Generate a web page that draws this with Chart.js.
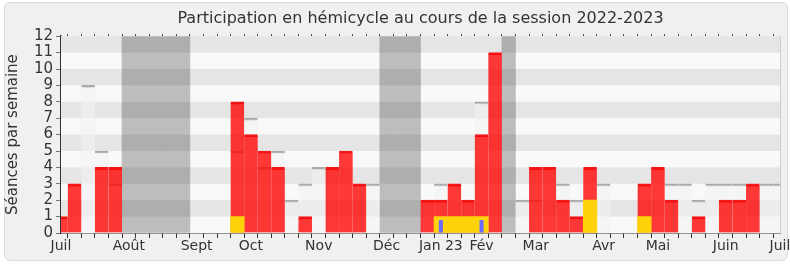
<!DOCTYPE html>
<html>
<head>
<meta charset="utf-8">
<script src="https://cdn.jsdelivr.net/npm/chart.js@4"></script>
<style>
  body { margin: 0; background: #fff; }
  #frame { position: absolute; left: 4px; top: 2px; width: 782px; height: 257px;
           border: 1px solid #dcdcdc; border-radius: 6px; background: #f0f0f0; }
  #wrap { position: absolute; left: 0; top: 0; width: 790px; height: 267px; }
</style>
</head>
<body>
<div id="frame"></div>
<div id="wrap"><canvas id="chart" width="790" height="267"></canvas></div>
<script>
// one slot per week, week 0 = first week of July 2022
const weeks = Array.from({ length: 54 }, (_, i) => i);

// total sessions in the week (grey line)
const total = [
  null, null, 9, 5, 3, null, null, null, null, null,
  null, null, null, 5, 7, 4, 5, 2, 3, 4,
  null, null, null, 3, null, null, null, null, 3, null,
  null, 8, null, null, 2, 2, null, 3, 2, null,
  3, null, null, null, null, 3, 3, 2, 3, 3,
  3, null, 3, 3
];
// sessions attended (red)
const present = [
  1, 3, null, 4, 4, null, null, null, null, null,
  null, null, null, 8, 6, 5, 4, null, 1, null,
  4, 5, 3, null, null, null, null, 2, 2, 3,
  2, 6, 11, null, null, 4, 4, 2, 1, 4,
  null, null, null, 3, 4, 2, null, 1, null, 2,
  2, 3, null, null
];
// yellow part
const yellow = [
  null, null, null, null, null, null, null, null, null, null,
  null, null, null, 1, null, null, null, null, null, null,
  null, null, null, null, null, null, null, null, 1, 1,
  1, 1, null, null, null, null, null, null, null, 2,
  null, null, null, 1, null, null, null, null, null, null,
  null, null, null, null
];
// thin blue marks
const blue = [];
blue[28] = 0.8;
blue[31] = 0.8;
// parliamentary breaks
const breakWeeks = [5, 6, 7, 8, 9, 24, 25, 26, 33];

const monthWeeks = [0, 5, 10, 14, 19, 24, 28, 31, 35, 40, 44, 49, 53];
const monthNames = ['Juil', 'Août', 'Sept', 'Oct', 'Nov', 'Déc', 'Jan 23', 'Fév', 'Mar', 'Avr', 'Mai', 'Juin', 'Juil'];

const pts = arr => weeks.map(w => ({ x: w, y: arr[w] == null ? null : arr[w] }));
const breakData = weeks.map(w => ({ x: w, y: breakWeeks.includes(w) ? 12 : null }));

const bgPlugin = {
  id: 'bg',
  beforeDatasetsDraw(chart) {
    const { ctx, chartArea: a } = chart;
    ctx.save();
    ctx.fillStyle = '#f9f9f9';
    ctx.fillRect(a.left, a.top, a.right - a.left, a.bottom - a.top);
    ctx.restore();
  },
  afterDatasetDraw(chart, args) {
    if (args.index !== 0) return;
    const { ctx, chartArea: a, scales } = chart;
    ctx.save();
    ctx.fillStyle = 'rgba(0,0,0,0.08)';
    for (let v = 1; v < 12; v += 2) {
      const y1 = scales.y.getPixelForValue(v + 1);
      const y2 = scales.y.getPixelForValue(v);
      ctx.fillRect(a.left, y1, a.right - a.left, y2 - y1);
    }
    ctx.restore();
  },
  afterDatasetsDraw(chart) {
    const { ctx, chartArea: a } = chart;
    ctx.save();
    ctx.strokeStyle = '#cccccc';
    ctx.lineWidth = 1;
    ctx.beginPath();
    ctx.moveTo(a.right + 0.5, a.top);
    ctx.lineTo(a.right + 0.5, a.bottom);
    ctx.stroke();
    ctx.restore();
  }
};

const weekTicks = scale => { scale.ticks = weeks.map(w => ({ value: w })); };

new Chart(document.getElementById('chart'), {
  type: 'bar',
  data: {
    datasets: [
      { data: breakData, backgroundColor: '#bdbdbd', order: 5 },
      { data: pts(total), backgroundColor: 'rgba(242,242,242,0.6)',
        borderColor: '#aaaaaa', borderWidth: { top: 2, left: 0, right: 0, bottom: 0 }, borderSkipped: false, order: 4 },
      { data: pts(present), backgroundColor: 'rgba(255,0,0,0.78)',
        borderColor: 'rgba(240,0,0,0.9)', borderWidth: { top: 2, left: 0, right: 0, bottom: 0 }, borderSkipped: false, order: 3 },
      { data: pts(yellow), backgroundColor: '#ffd20a', order: 2 },
      { data: pts(blue), backgroundColor: '#6b6bff', barPercentage: 0.3, order: 1 }
    ]
  },
  options: {
    responsive: false,
    animation: false,
    devicePixelRatio: 1,
    layout: { padding: { left: 4, right: 10, top: 0, bottom: 0 } },
    datasets: { bar: { grouped: false, barPercentage: 1, categoryPercentage: 1 } },
    plugins: {
      legend: { display: false },
      tooltip: { enabled: false },
      title: {
        display: true,
        fullSize: false,
        text: 'Participation en hémicycle au cours de la session 2022-2023',
        color: '#333',
        font: { family: 'DejaVu Sans', size: 16, weight: 'normal' },
        padding: { top: 9, bottom: 8 }
      }
    },
    scales: {
      x: {
        type: 'linear', min: 0, max: 53, offset: false,
        afterBuildTicks: weekTicks,
        afterFit(s) { s.height = 34; s.paddingLeft = 0; s.paddingRight = 0; },
        ticks: {
          autoSkip: false, maxRotation: 0, padding: 0, color: '#333',
          font: { family: 'DejaVu Sans', size: 14 },
          callback: v => { const i = monthWeeks.indexOf(v); return i < 0 ? '' : monthNames[i]; }
        },
        grid: { drawOnChartArea: false, tickLength: 5, color: '#333' },
        border: { color: '#333', width: 1.5 }
      },
      x2: {
        type: 'linear', position: 'top', min: 0, max: 53, offset: false,
        afterBuildTicks: weekTicks,
        afterFit(s) { s.height = 0; s.paddingLeft = 0; s.paddingRight = 0; },
        ticks: { display: false },
        grid: { drawOnChartArea: false, tickLength: 2, color: '#333' },
        border: { display: false }
      },
      y: {
        min: 0, max: 12,
        afterFit(s) { s.width = 57; },
        ticks: { stepSize: 1, autoSkip: false, padding: 3, color: '#333', font: { family: 'DejaVu Sans', size: 15, lineHeight: 1 } },
        grid: { drawOnChartArea: false, tickLength: 5, color: '#777' },
        border: { color: '#333', width: 1.5 },
        title: {
          display: true, text: 'Séances par semaine', color: '#333',
          font: { family: 'DejaVu Sans', size: 15 }, padding: { top: 0, bottom: 0 }
        }
      }
    }
  },
  plugins: [bgPlugin]
});
</script>
</body>
</html>
